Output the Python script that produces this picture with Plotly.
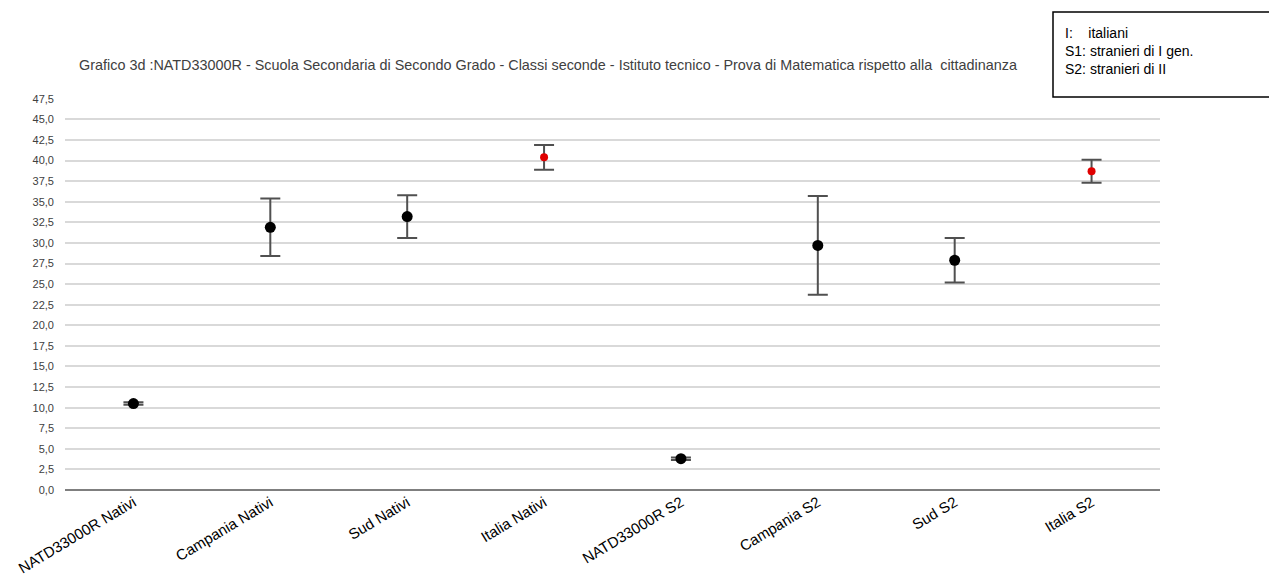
import plotly.graph_objects as go

categories = ["NATD33000R Nativi", "Campania Nativi", "Sud Nativi", "Italia Nativi",
              "NATD33000R S2", "Campania S2", "Sud S2", "Italia S2"]
means = [10.5, 31.9, 33.2, 40.4, 3.8, 29.7, 27.9, 38.7]
errors = [0.15, 3.5, 2.6, 1.5, 0.15, 6.0, 2.7, 1.4]
is_italy = [False, False, False, True, False, False, False, True]
y_ticks = [i * 2.5 for i in range(20)]

# page body has an 8px margin; figure sized to fit the window
OFF = 8
W, H = 1277 - OFF, 582 - OFF
# plot area in screen pixels: x 65..1160, y 98..490
L = 65 - OFF
R = W - (1160 - OFF)
T = 98 - OFF
B = H - (490 - OFF)

colors = ["#e00000" if it else "#000000" for it in is_italy]
sizes = [8 if it else 11 for it in is_italy]

fig = go.Figure()
fig.add_trace(go.Scatter(
    x=categories, y=means, mode="markers",
    marker=dict(color=colors, size=sizes, opacity=1, line=dict(width=0)),
    error_y=dict(type="data", array=errors, visible=True,
                 color="#505050", thickness=2, width=10),
    showlegend=False, hoverinfo="x+y",
))

fig.update_layout(
    width=W, height=H,
    margin=dict(l=L, r=R, t=T, b=B, pad=0, autoexpand=False),
    paper_bgcolor="white", plot_bgcolor="white",
    separators=",.",
    font=dict(family="Liberation Sans, Arial, sans-serif", color="#000000"),
    xaxis=dict(
        type="category", categoryorder="array", categoryarray=categories,
        range=[-0.5, len(categories) - 0.5], automargin=False,
        tickangle=-31, tickfont=dict(size=15, family="Liberation Sans, Arial", color="#000"),
        showgrid=False, zeroline=False, showline=False, ticks="",
    ),
    yaxis=dict(
        range=[0, 47.6], tickvals=y_ticks, tickformat=".1f", automargin=False,
        tickfont=dict(size=11, color="#404040"),
        showgrid=True, gridcolor="#d9d9d9", gridwidth=2,
        zeroline=True, zerolinecolor="#7f7f7f", zerolinewidth=2,
        showline=False, ticks="", ticklabelstandoff=10,
    ),
)


def px_x(sx):
    return (sx - OFF - L) / (W - L - R)


def px_y(sy):
    return (H - B - (sy - OFF)) / (H - T - B)


fig.add_annotation(
    xref="paper", yref="paper", x=px_x(77), y=px_y(65),
    yanchor="middle", xanchor="left", showarrow=False,
    text="Grafico 3d :NATD33000R - Scuola Secondaria di Secondo Grado - Classi seconde - Istituto tecnico - Prova di Matematica rispetto alla  cittadinanza",
    font=dict(size=14.4, color="#404040", family="Liberation Sans, Arial"),
)

fig.add_shape(type="rect", xref="paper", yref="paper",
              x0=px_x(1053), x1=px_x(1271), y0=px_y(97), y1=px_y(12),
              line=dict(color="#000000", width=1.5), fillcolor="white", layer="above")
fig.add_annotation(
    xref="paper", yref="paper", x=px_x(1063), y=px_y(23),
    xanchor="left", yanchor="top", showarrow=False, align="left",
    text="I:    italiani<br>S1: stranieri di I gen.<br>S2: stranieri di II",
    font=dict(size=14, color="#000000", family="Liberation Sans, Arial"),
)

fig.write_html("out.html")
